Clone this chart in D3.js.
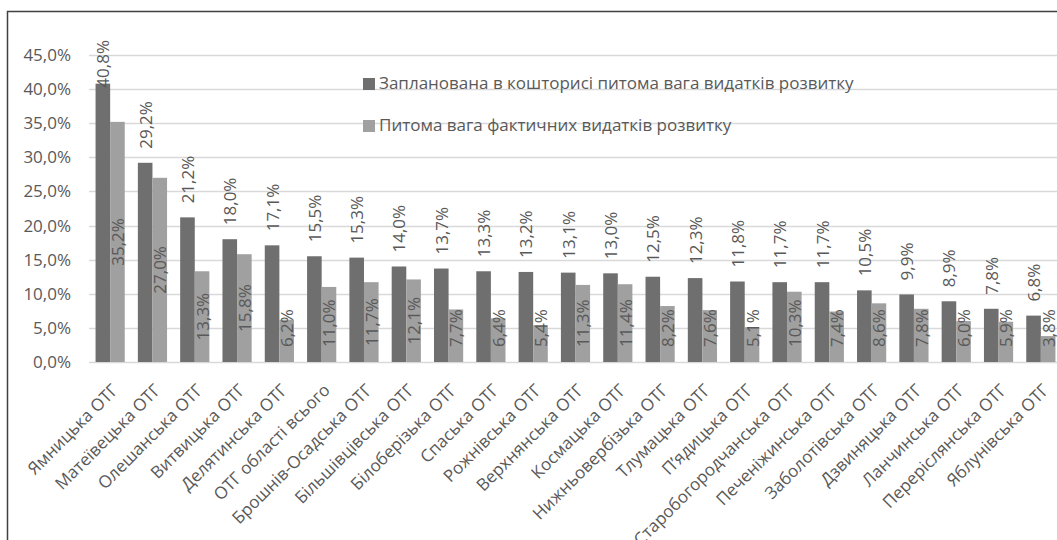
<!DOCTYPE html>
<html>
<head>
<meta charset="utf-8">
<script src="https://cdn.jsdelivr.net/npm/d3@7"></script>
<style>
  html, body { margin: 0; padding: 0; background: #fff; }
  svg { display: block; font-family: "Open Sans", sans-serif; }
</style>
</head>
<body>
<svg id="chart" width="1057" height="540"></svg>
<script>
// values
const categories = [
  'Ямницька ОТГ', 'Матеївецька ОТГ', 'Олешанська ОТГ', 'Витвицька ОТГ', 'Делятинська ОТГ',
  'ОТГ області всього', 'Брошнів-Осадська ОТГ', 'Більшівцівська ОТГ', 'Білоберізька ОТГ',
  'Спаська ОТГ', 'Рожнівська ОТГ', 'Верхнянська ОТГ', 'Космацька ОТГ', 'Нижньовербізька ОТГ',
  'Тлумацька ОТГ', 'П’ядицька ОТГ', 'Старобогородчанська ОТГ', 'Печеніжинська ОТГ',
  'Заболотівська ОТГ', 'Дзвиняцька ОТГ', 'Ланчинська ОТГ', 'Переріслянська ОТГ', 'Яблунівська ОТГ'
];
const planned = [40.8, 29.2, 21.2, 18.0, 17.1, 15.5, 15.3, 14.0, 13.7, 13.3, 13.2, 13.1, 13.0, 12.5,
  12.3, 11.8, 11.7, 11.7, 10.5, 9.9, 8.9, 7.8, 6.8];
const actual = [35.2, 27.0, 13.3, 15.8, 6.2, 11.0, 11.7, 12.1, 7.7, 6.4, 5.4, 11.3, 11.4, 8.2,
  7.6, 5.1, 10.3, 7.4, 8.6, 7.8, 6.0, 5.9, 3.8];
const seriesNames = [
  'Запланована в кошторисі питома вага видатків розвитку',
  'Питома вага фактичних видатків розвитку'
];
const yTicks = [0, 5, 10, 15, 20, 25, 30, 35, 40, 45];

const colors = ['#6f6f6f', '#a0a0a0'];
const textColor = '#595959';

const svg = d3.select('#chart');
const locale = d3.formatLocale({decimal: ',', thousands: ' ', grouping: [3], currency: ['', '']});
const pct = v => locale.format('.1f')(v) + '%';

const plot = {left: 89, right: 1062, top: 55, bottom: 362};

const x = d3.scaleBand().domain(categories).range([plot.left, plot.right])
  .paddingInner(0.31).paddingOuter(0.155);
const xs = d3.scaleBand().domain([0, 1]).range([0, x.bandwidth()]);
const y = d3.scaleLinear().domain([0, 45]).range([plot.bottom, plot.top]);

// frame
svg.append('rect')
  .attr('x', 7.5).attr('y', 11.5).attr('width', 1100).attr('height', 600)
  .attr('fill', 'none').attr('stroke', '#404040').attr('stroke-width', 1.5);

// gridlines
svg.append('g').selectAll('line').data(yTicks).join('line')
  .attr('x1', plot.left).attr('x2', plot.right)
  .attr('y1', d => Math.round(y(d)) + 0.5).attr('y2', d => Math.round(y(d)) + 0.5)
  .attr('stroke', '#d9d9d9').attr('stroke-width', 1.3);

// y tick labels
svg.append('g').selectAll('text').data(yTicks).join('text')
  .attr('x', 71).attr('y', d => y(d)).attr('dy', '0.35em')
  .attr('text-anchor', 'end').attr('fill', textColor).attr('font-size', 17)
  .text(pct);

// bars
const rows = categories.map((c, i) => ({cat: c, vals: [planned[i], actual[i]]}));
const groups = svg.append('g').selectAll('g').data(rows).join('g')
  .attr('transform', d => `translate(${x(d.cat)},0)`);

groups.selectAll('rect').data(d => d.vals.map((v, s) => ({v, s}))).join('rect')
  .attr('x', d => xs(d.s)).attr('width', xs.bandwidth())
  .attr('y', d => y(d.v)).attr('height', d => y(0) - y(d.v))
  .attr('fill', d => colors[d.s]);

// planned labels, above the bar (kept inside the chart top)
groups.append('text')
  .attr('fill', textColor).attr('font-size', 17)
  .attr('dominant-baseline', 'central')
  .text(d => pct(d.vals[0]))
  .each(function(d) {
    const len = this.getComputedTextLength();
    let start = y(d.vals[0]) - 14;
    if (start - len < 40) start = 40 + len;
    d3.select(this).attr('transform',
      `translate(${xs(0) + xs.bandwidth() / 2},${start}) rotate(-90)`);
  });

// actual labels, centred in the bar
groups.append('text')
  .attr('fill', textColor).attr('font-size', 17)
  .attr('dominant-baseline', 'central').attr('text-anchor', 'middle')
  .text(d => pct(d.vals[1]))
  .each(function(d) {
    const len = this.getComputedTextLength();
    const mid = Math.min((y(d.vals[1]) + y(0)) / 2, y(0) - 15 - len / 2);
    d3.select(this).attr('transform',
      `translate(${xs(1) + xs.bandwidth() / 2},${mid}) rotate(-90)`);
  });

// category labels
svg.append('g').selectAll('text').data(categories).join('text')
  .attr('transform', d => `translate(${x(d) + x.bandwidth() / 2 + 5},${plot.bottom + 25}) rotate(-45)`)
  .attr('text-anchor', 'end').attr('dy', '0.35em')
  .attr('fill', textColor).attr('font-size', 17)
  .text(d => d);

// legend
const legend = svg.append('g').selectAll('g').data(seriesNames).join('g')
  .attr('transform', (d, i) => `translate(363,${78 + i * 42})`);
legend.append('rect').attr('width', 12).attr('height', 12)
  .attr('fill', (d, i) => colors[i]);
legend.append('text').attr('x', 16).attr('y', 11)
  .attr('fill', textColor).attr('font-size', 17)
  .text(d => d);
</script>
</body>
</html>
